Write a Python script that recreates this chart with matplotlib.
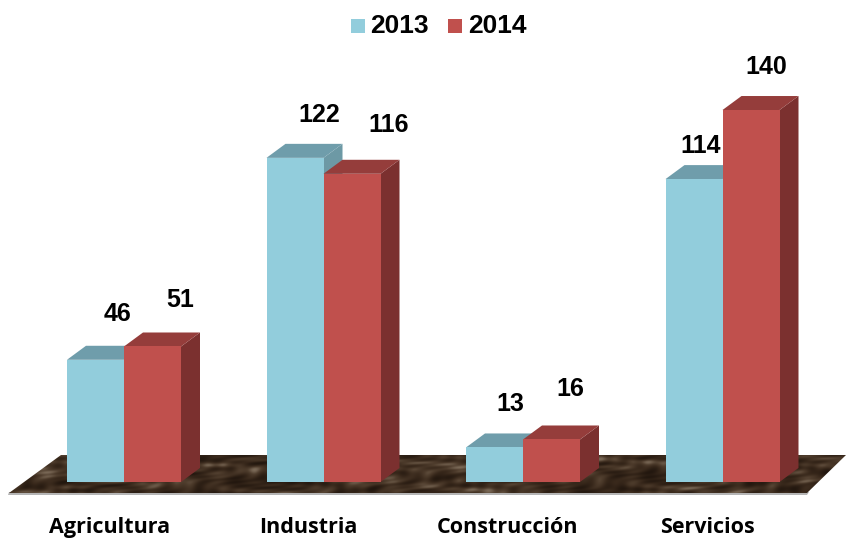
import numpy as np
import matplotlib
matplotlib.use("Agg")
import matplotlib.pyplot as plt
from matplotlib.patches import Polygon, Rectangle
from matplotlib.colors import LinearSegmentedColormap

categories = ["Agricultura", "Industria", "Construcción", "Servicios"]
series_names = ["2013", "2014"]
values_2013 = [46, 122, 13, 114]
values_2014 = [51, 116, 16, 140]

W, H = 846, 538
GX0, GDX = 124.0, 199.5      # group position/pitch in px
Y0, PXU = 482.0, 2.657       # baseline px, px per value unit
BAR_PX, DX_PX, DY_PX = 57.0, 19.0, 14.0

# label placement in pixels, relative to the figure
lab13_xy = [(117, 314), (319, 115), (510, 404), (701, 146)]
lab14_xy = [(180, 300), (389, 125), (570, 389), (766, 67)]
cat_x = [110, 308, 507, 707]

fig = plt.figure(figsize=(W / 100, H / 100), dpi=100, facecolor="white")
ax = fig.add_axes([0, 0, 1, 1])
ax.set_xlim((0 - GX0) / GDX, (W - GX0) / GDX)
ax.set_ylim((Y0 - H) / PXU, Y0 / PXU)
ax.axis("off")

xu = lambda px: px / GDX
yu = lambda px: px / PXU
X = lambda px: (px - GX0) / GDX
Y = lambda px: (Y0 - px) / PXU

# Floor: marble-like texture built from layered sines, clipped to a parallelogram
floor_pts = [(X(9), Y(493)), (X(61), Y(455)), (X(846), Y(455)), (X(807), Y(493))]
ax.add_patch(Polygon([(X(8), Y(495)), (X(807), Y(495)), (X(809), Y(492)), (X(9), Y(492))],
                     closed=True, fc="#b5b5b5", ec="none", zorder=1))
gy, gx = np.mgrid[0:42, 0:846]
t = (np.sin(gx / 19 + gy / 3.1 + 2.2 * np.sin(gx / 53 + gy / 7)) +
     0.9 * np.sin(gx / 8.5 - gy / 2.4 + 2.7 * np.sin(gy / 5 + gx / 31)) +
     0.6 * np.sin(gx / 3.7 + gy / 1.3 + 3 * np.sin(gx / 23 - gy / 4)) +
     0.7 * np.sin(gx / 37 - gy / 3.3))
t = ((t - t.min()) / (t.max() - t.min())) ** 1.3
cmap = LinearSegmentedColormap.from_list("m", ["#21160e", "#38281b", "#4f3d2d", "#7d6c5a"])
im = ax.imshow(t, cmap=cmap, extent=(X(0), X(846), Y(495), Y(453)), aspect="auto",
               interpolation="bicubic", zorder=1.5)
im.set_clip_path(Polygon(floor_pts, closed=True, transform=ax.transData))


def bar3d(xc, v, front, top, side, z):
    l = xc
    r = xc + xu(BAR_PX)
    dx, dy = xu(DX_PX), yu(DY_PX)
    ax.add_patch(Polygon([(r, 0), (r + dx, dy), (r + dx, v + dy), (r, v)], fc=side, ec="none", zorder=z))
    ax.add_patch(Polygon([(l, v), (l + dx, v + dy), (r + dx, v + dy), (r, v)], fc=top, ec="none", zorder=z))
    ax.add_patch(Rectangle((l, 0), xu(BAR_PX), v, fc=front, ec="none", zorder=z + 0.1))


NUM = dict(ha="center", va="center", fontsize=18, fontweight="bold",
           family="Liberation Sans", color="black", zorder=5)
BLUE = ("#92cddc", "#6f9dab", "#6d99a5")
RED = ("#c0504d", "#953d3b", "#7b302f")
for i, (a, b) in enumerate(zip(values_2013, values_2014)):
    bar3d(i - xu(BAR_PX), a, *BLUE, 2)
    bar3d(i, b, *RED, 3)
    ax.text(X(lab13_xy[i][0]), Y(lab13_xy[i][1]), str(a), **NUM)
    ax.text(X(lab14_xy[i][0]), Y(lab14_xy[i][1]), str(b), **NUM)
    ax.text(X(cat_x[i]), Y(527.5), categories[i], ha="center", va="center",
            fontsize=15.5, fontweight="bold", family="Open Sans", color="black", zorder=5)

# Legend
leg_items = [(351, "#92cddc", series_names[0], 370), (448, "#c0504d", series_names[1], 468)]
for px, c, name, tx in leg_items:
    ax.add_patch(Rectangle((X(px), Y(33)), xu(14), yu(14), fc=c, ec="none", zorder=5))
    ax.text(X(tx), Y(26.5), name, ha="left", va="center", fontsize=19, fontweight="bold",
            family="Liberation Sans", color="black", zorder=5)

fig.savefig("out.png", dpi=100, facecolor="white")
